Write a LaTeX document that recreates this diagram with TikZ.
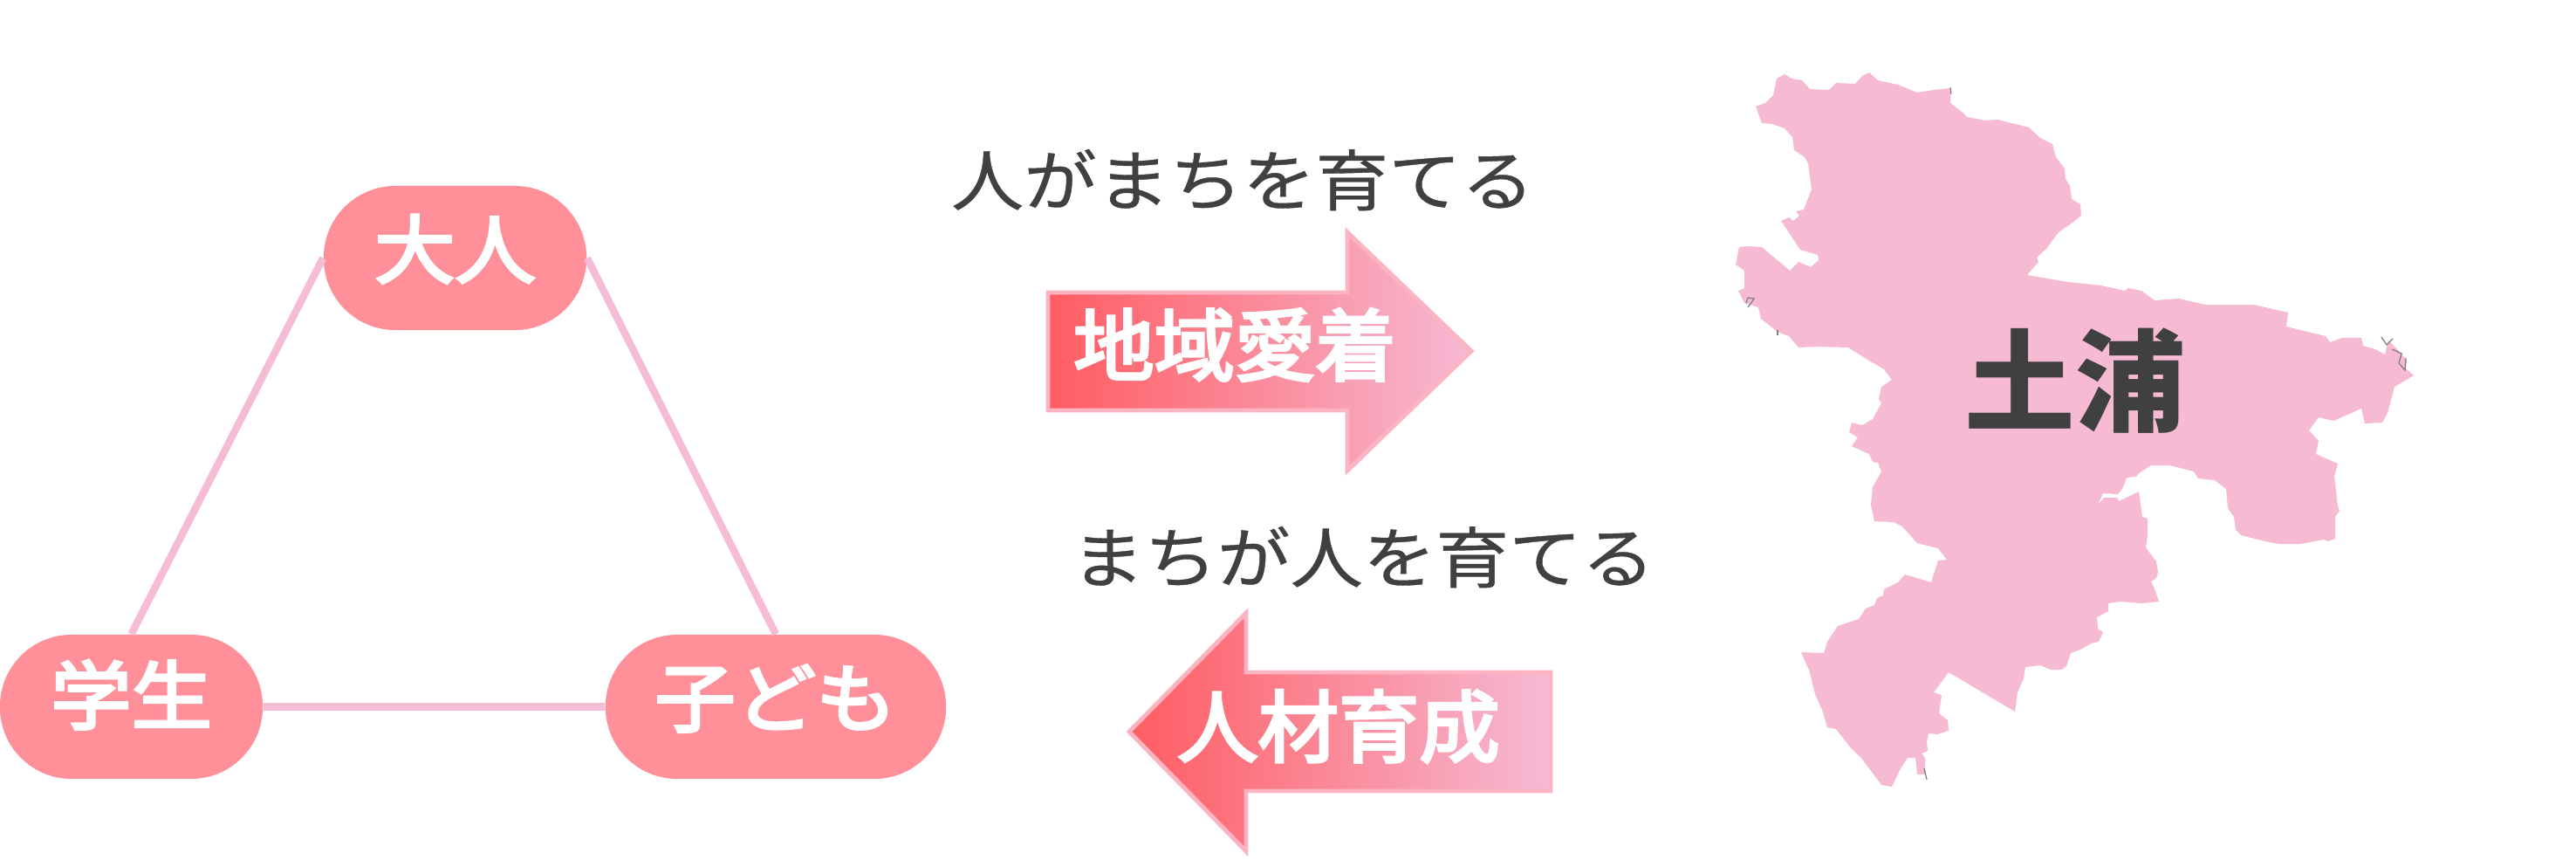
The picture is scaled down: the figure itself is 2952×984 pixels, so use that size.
\documentclass[tikz,border=0pt]{standalone}
\usepackage{fontspec}
\usepackage{xcolor}
\setmainfont{Noto Sans CJK JP}
\newfontfamily\mottofont[FakeBold=0.5,FakeStretch=1.1]{Noto Sans CJK JP}
\newfontfamily\personfont[FakeBold=4,FakeStretch=1.08]{Noto Sans CJK JP}
\newfontfamily\labelfont[FakeBold=4,FakeStretch=1.03]{Noto Sans CJK JP}
\definecolor{personred}{HTML}{FF8F98}
\definecolor{linkpink}{HTML}{F6BCD6}
\definecolor{mappink}{HTML}{F6BAD3}
\definecolor{arrowred}{HTML}{FF5C62}
\definecolor{arrowmid}{HTML}{FAAABF}
\definecolor{arrowpink}{HTML}{F6BAD4}
\definecolor{arrowedge}{HTML}{FDB4C2}
\definecolor{textgray}{HTML}{404040}

\begin{document}
\begin{tikzpicture}[x=0.01cm,y=-0.01cm]
    % Define shapes and texts
    \tikzstyle{person}=[fill=personred, rectangle, rounded corners=0.82cm, minimum height=1.65cm, inner sep=0pt, text=white, font=\fontsize{24.3}{30}\personfont]
    \tikzstyle{link}=[draw=linkpink, line width=2.4pt]
    \tikzstyle{motto}=[text=textgray, inner sep=0pt, font=\fontsize{21.6}{28}\mottofont]
    \tikzstyle{bigarrow}=[draw=arrowedge, line width=1.4pt, miter limit=10, left color=arrowred, middle color=arrowmid, right color=arrowpink]
    \tikzstyle{arrowtext}=[text=white, inner sep=0pt, font=\fontsize{25.5}{30}\labelfont]
    \tikzstyle{speck}=[draw=gray, line width=0.35pt]

    % Fix the page
    \useasboundingbox (0,0) rectangle (2952,984);

    % Place the three groups
    \node[person, minimum width=3.01cm] (adult) at (521.5,295.5) {\raisebox{7.7pt}{大人}};
    \node[person, minimum width=3.01cm] (student) at (150.5,809.5) {\raisebox{9.8pt}{学生}};
    \node[person, minimum width=3.90cm] (child) at (889,809.5) {\raisebox{7.4pt}{子ども}};

    % Connect the groups
    \draw[link] (adult.west) -- (student.north);
    \draw[link] (adult.east) -- (child.north);
    \draw[link] (student.east) -- (child.west);

    % Upper arrow
    \node[motto] (motto1) at (1424,206) {人がまちを育てる};
    \path[bigarrow]
        (1201,335) -- (1544,335) -- (1544,266) -- (1686,402) -- (1544,539) -- (1544,470) -- (1201,470) -- cycle;
    \node[arrowtext] (love) at (1415,395) {地域愛着};

    % Lower arrow
    \node[motto] (motto2) at (1562,638) {まちが人を育てる};
    \path[bigarrow]
        (1294,838) -- (1428,702) -- (1428,770) -- (1777,770) -- (1777,906) -- (1428,906) -- (1428,975) -- cycle;
    \node[arrowtext] (growth) at (1534,832) {人材育成};

    % Map of the city
    \fill[mappink] (2045,85) -- (2053,90) -- (2065,92) -- (2074,102) -- (2096,103) -- (2104,95) -- (2126,96) -- (2134,87)
        -- (2142,83) -- (2152,92) -- (2175,97) -- (2197,106) -- (2216,103) -- (2235,101) -- (2235,118) -- (2248,128)
        -- (2254,134) -- (2275,138) -- (2289,137) -- (2325,146) -- (2338,158) -- (2352,165) -- (2356,180) -- (2366,193)
        -- (2367,205) -- (2372,213) -- (2374,228) -- (2384,234) -- (2385,247) -- (2375,255) -- (2359,266) -- (2345,285)
        -- (2334,295) -- (2336,300) -- (2323,315) -- (2370,323) -- (2408,327) -- (2435,333) -- (2439,330) -- (2454,333)
        -- (2469,344) -- (2497,342) -- (2527,349) -- (2583,349) -- (2622,358) -- (2620,374) -- (2665,385) -- (2670,392)
        -- (2684,387) -- (2706,387) -- (2708,396) -- (2722,400) -- (2733,406) -- (2737,390) -- (2752,405) -- (2758,413)
        -- (2757,422) -- (2766,430) -- (2744,443) -- (2736,473) -- (2730,484) -- (2710,485) -- (2706,468) -- (2674,482)
        -- (2657,478) -- (2646,493) -- (2657,505) -- (2654,520) -- (2679,531) -- (2675,545) -- (2679,580) -- (2681,585)
        -- (2676,592) -- (2676,617) -- (2668,620) -- (2663,618) -- (2636,623) -- (2611,623) -- (2592,619) -- (2568,613)
        -- (2562,607) -- (2560,592) -- (2553,582) -- (2551,560) -- (2538,550) -- (2519,548) -- (2514,540) -- (2487,533)
        -- (2465,533) -- (2451,542) -- (2448,546) -- (2437,547) -- (2432,560) -- (2427,566) -- (2410,565) -- (2404,578)
        -- (2411,570) -- (2426,570) -- (2428,574) -- (2451,563) -- (2455,592) -- (2461,594) -- (2461,613) -- (2459,627)
        -- (2471,643) -- (2473,655) -- (2471,662) -- (2465,666) -- (2470,677) -- (2474,689) -- (2454,691) -- (2430,689)
        -- (2416,691) -- (2416,700) -- (2403,707) -- (2404,720) -- (2410,724) -- (2405,735) -- (2396,737) -- (2384,744)
        -- (2373,748) -- (2368,763) -- (2362,767) -- (2350,767) -- (2338,762) -- (2321,764) -- (2319,777) -- (2312,793)
        -- (2309,815) -- (2233,770) -- (2216,793) -- (2225,796) -- (2222,817) -- (2232,825) -- (2233,837) -- (2220,841)
        -- (2210,840) -- (2208,850) -- (2209,860) -- (2202,863) -- (2206,868) -- (2206,887) -- (2197,887) -- (2195,868)
        -- (2186,868) -- (2178,880) -- (2168,901) -- (2156,899) -- (2142,880) -- (2132,867) -- (2122,858) -- (2104,835)
        -- (2094,833) -- (2088,813) -- (2080,795) -- (2074,770) -- (2064,747) -- (2090,748) -- (2094,735) -- (2106,717)
        -- (2130,709) -- (2138,697) -- (2148,693) -- (2151,685) -- (2158,682) -- (2159,675) -- (2175,667) -- (2183,658)
        -- (2213,667) -- (2221,642) -- (2231,641) -- (2221,628) -- (2197,622) -- (2180,603) -- (2170,598) -- (2148,597)
        -- (2144,578) -- (2146,558) -- (2156,540) -- (2152,530) -- (2146,529) -- (2142,520) -- (2122,511) -- (2129,501)
        -- (2119,495) -- (2122,484) -- (2134,487) -- (2146,480) -- (2156,462) -- (2153,457) -- (2156,443) -- (2168,435)
        -- (2159,423) -- (2142,413) -- (2118,398) -- (2080,397) -- (2061,398) -- (2050,385) -- (2037,380) -- (2018,365)
        -- (2015,352) -- (1999,347) -- (1992,333) -- (1999,330) -- (1999,310) -- (1989,303) -- (1993,283) -- (2001,282)
        -- (2019,283) -- (2051,310) -- (2061,300) -- (2075,306) -- (2084,298) -- (2083,292) -- (2063,286) -- (2041,253)
        -- (2050,249) -- (2055,253) -- (2062,247) -- (2058,242) -- (2067,240) -- (2076,217) -- (2072,187) -- (2068,180)
        -- (2056,172) -- (2054,157) -- (2045,147) -- (2031,142) -- (2019,141) -- (2012,122) -- (2023,118) -- (2032,109)
        -- (2036,90) -- cycle;

    % Grey specks on the coast
    \draw[speck] (2001,347) -- (2003,341) -- (2010,342) -- (2006,348) -- (2003,352);
    \draw[speck] (2037,378) -- (2037,384);
    \draw[speck] (2235,100) -- (2236,108);
    \draw[speck] (2729,386) -- (2735,395) -- (2742,388);
    \draw[speck] (2741,400) -- (2752,405) -- (2749,416) -- (2756,424) -- (2757,410);
    \draw[speck] (2205,880) -- (2208,893);

    % City name
    \node[text=textgray, inner sep=0pt, font=\fontsize{36}{40}\selectfont\bfseries] (city) at (2378,436) {土浦};
\end{tikzpicture}
\end{document}
